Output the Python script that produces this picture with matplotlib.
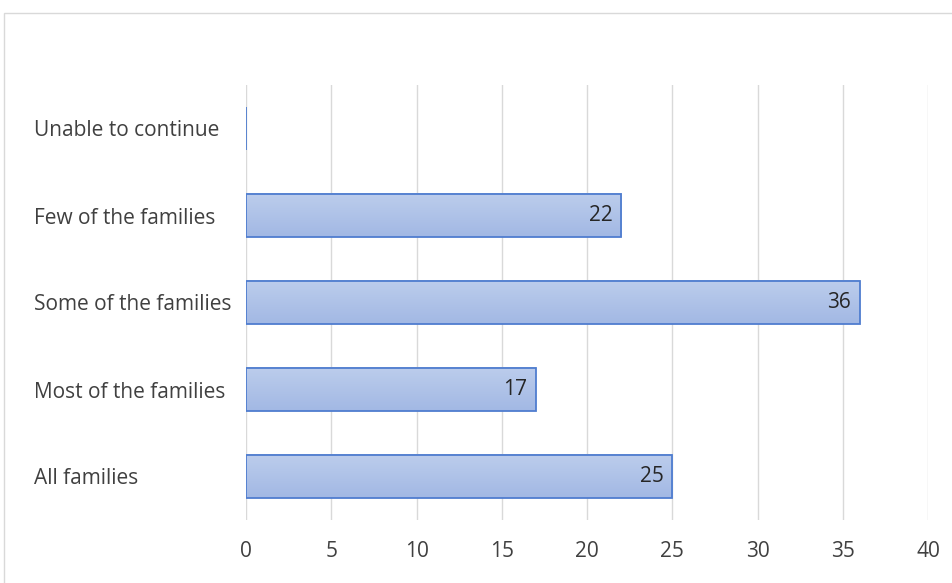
import numpy as np
import matplotlib.pyplot as plt
from matplotlib.patches import Rectangle
from matplotlib.colors import LinearSegmentedColormap

# chart data (top to bottom as shown)
categories = ['Unable to continue', 'Few of the families', 'Some of the families',
              'Most of the families', 'All families']
values = [0, 22, 36, 17, 25]
xticks = [0, 5, 10, 15, 20, 25, 30, 35, 40]

plt.rcParams['font.family'] = ['Open Sans', 'DejaVu Sans']

fig = plt.figure(figsize=(9.52, 5.83), dpi=100)
ax = fig.add_axes([246 / 952, 1 - 520 / 583, (928 - 246) / 952, (520 - 85) / 583])

# outer chart frame
fig.patches.append(Rectangle((4 / 952, -0.1), 1.2, 1.1 - 13 / 583,
                             transform=fig.transFigure, fill=False,
                             edgecolor='#d9d9d9', lw=1))

n = len(categories)
ypos = np.arange(n)[::-1]
bars = ax.barh(ypos, values, height=0.5, color='none', edgecolor='#4f7dcf',
               lw=1.3, zorder=3)

# vertical gradient fill for each bar
grad = np.linspace(0, 1, 100).reshape(-1, 1)
cmap = LinearSegmentedColormap.from_list('g', ['#a2b8e4', '#bccdec'])
for b in bars:
    x0, y0 = b.get_x(), b.get_y()
    w, h = b.get_width(), b.get_height()
    if w > 0:
        ax.imshow(grad, cmap=cmap, aspect='auto', origin='lower',
                  extent=(x0, x0 + w, y0, y0 + h), zorder=2)

for b, v in zip(bars, values):
    if v > 0:
        ax.text(v - 0.5, b.get_y() + b.get_height() / 2, str(v),
                ha='right', va='center', fontsize=15, color='#262626', zorder=4)

ax.set_xlim(0, 40)
ax.set_ylim(-0.5, n - 0.5)
ax.set_xticks(xticks)
ax.set_yticks(ypos)
ax.set_yticklabels(categories, ha='left')
# pad is in points: 212 px -> 152.6 pt
ax.tick_params(axis='y', length=0, pad=212 * 0.72, labelsize=15, labelcolor='#404040')
ax.tick_params(axis='x', length=0, pad=15, labelsize=15, labelcolor='#404040')
ax.grid(axis='x', color='#d9d9d9', lw=1, zorder=0)
for s in ax.spines.values():
    s.set_visible(False)
ax.set_axisbelow(True)

fig.savefig('out.png', dpi=100)
